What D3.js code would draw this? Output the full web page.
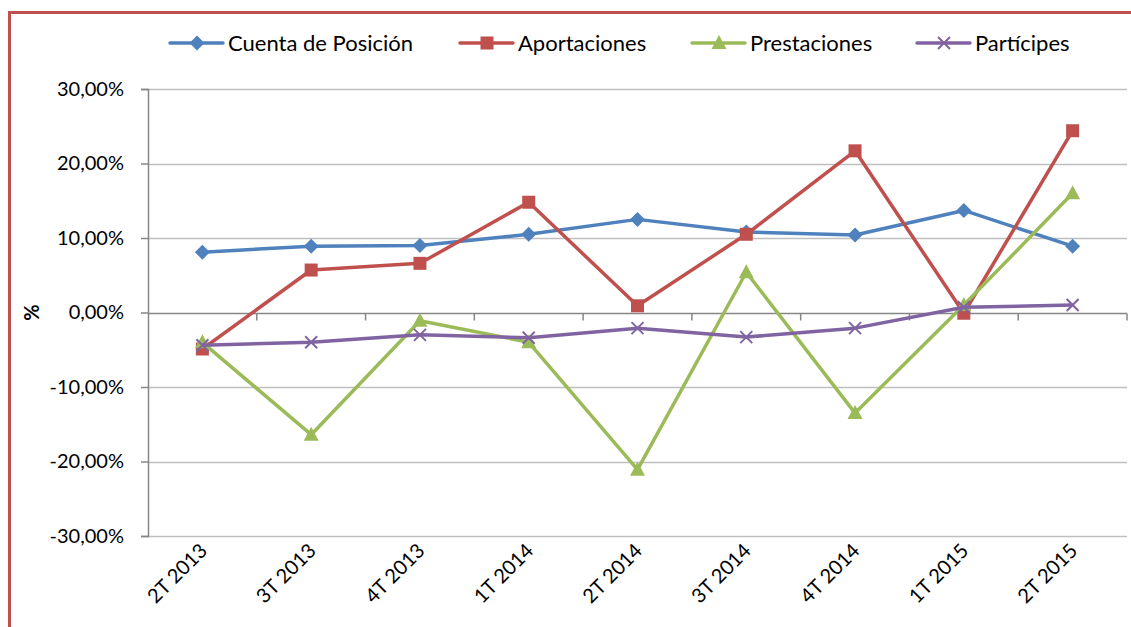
<!DOCTYPE html>
<html>
<head>
<meta charset="utf-8">
<script src="https://cdn.jsdelivr.net/npm/d3@7"></script>
<style>
  body { margin: 0; background: #fff; }
  svg text { font-family: Lato, "Open Sans", sans-serif; fill: #000; }
</style>
</head>
<body>
<div id="chart"></div>
<script>
var categories = ["2T 2013", "3T 2013", "4T 2013", "1T 2014", "2T 2014", "3T 2014", "4T 2014", "1T 2015", "2T 2015"];
var cuenta      = [8.1, 8.9, 9.0, 10.5, 12.5, 10.8, 10.4, 13.7, 8.9];
var aportaciones = [-4.9, 5.7, 6.6, 14.8, 0.9, 10.5, 21.7, -0.1, 24.4];
var prestaciones = [-4.0, -16.4, -1.1, -4.0, -21.1, 5.4, -13.5, 1.0, 16.0];
var participes  = [-4.4, -4.0, -3.0, -3.4, -2.1, -3.3, -2.1, 0.7, 1.0];
var yTicks = [-30, -20, -10, 0, 10, 20, 30];

var series = [
  {name: "Cuenta de Posición", values: cuenta, color: "#4F81BD", marker: "diamond"},
  {name: "Aportaciones", values: aportaciones, color: "#C0504D", marker: "square"},
  {name: "Prestaciones", values: prestaciones, color: "#9BBB59", marker: "triangle"},
  {name: "Partícipes", values: participes, color: "#8064A2", marker: "x"}
];

var W = 1131, H = 627;
var margin = {left: 148, right: 4, top: 89, bottom: 91};

var svg = d3.select("#chart").append("svg")
  .attr("width", W).attr("height", H);

// chart border (only top and left visible in the crop)
svg.append("rect")
  .attr("x", 9.5).attr("y", 12.5)
  .attr("width", W + 20).attr("height", H + 20)
  .attr("fill", "none").attr("stroke", "#C0504D").attr("stroke-width", 3);

var x = d3.scaleBand().domain(categories)
  .range([margin.left, W - margin.right]);
var y = d3.scaleLinear().domain([-30, 30])
  .range([H - margin.bottom, margin.top]);

// excel style: comma decimals, plain hyphen for minus
var fmt = function(v) { return v.toFixed(2).replace(".", ",") + "%"; };

// gridlines
svg.append("g").selectAll("line")
  .data(yTicks.filter(function(d) { return d != 0; }))
  .enter().append("line")
  .attr("x1", margin.left).attr("x2", W - margin.right)
  .attr("y1", function(d) { return Math.round(y(d)) + 0.5; })
  .attr("y2", function(d) { return Math.round(y(d)) + 0.5; })
  .attr("stroke", "#BFBFBF").attr("stroke-width", 1.5);

// y axis
var yAxis = svg.append("g")
  .attr("transform", "translate(" + margin.left + ",0)")
  .call(d3.axisLeft(y).tickValues(yTicks).tickFormat(fmt).tickSize(7).tickPadding(17));
yAxis.select(".domain").attr("stroke", "#868686").attr("stroke-width", 1.5);
yAxis.selectAll(".tick line").attr("stroke", "#868686").attr("stroke-width", 1.5);
yAxis.selectAll("text").style("font-size", "20px").attr("fill", "#000");

// x axis at zero
var xAxis = svg.append("g")
  .attr("transform", "translate(0," + (Math.round(y(0)) + 0.5) + ")");
xAxis.append("line")
  .attr("x1", margin.left).attr("x2", W - margin.right)
  .attr("stroke", "#868686").attr("stroke-width", 1.5);
var bounds = categories.map(function(c) { return x(c); }).concat([x.range()[1]]);
xAxis.selectAll(".tk").data(bounds.slice(1))
  .enter().append("line").attr("class", "tk")
  .attr("x1", function(d) { return d; }).attr("x2", function(d) { return d; })
  .attr("y1", 0).attr("y2", 7)
  .attr("stroke", "#868686").attr("stroke-width", 1.5);

// category labels
svg.append("g").selectAll("text")
  .data(categories).enter().append("text")
  .attr("transform", function(d) {
    return "translate(" + (x(d) + x.bandwidth() / 2 + 6) + "," + (H - margin.bottom + 16) + ") rotate(-45)";
  })
  .attr("text-anchor", "end")
  .style("font-size", "20px")
  .text(function(d) { return d; });

// y title
svg.append("text")
  .attr("transform", "translate(39," + y(0) + ") rotate(-90)")
  .attr("text-anchor", "middle")
  .style("font-size", "20px").style("font-weight", "bold")
  .text("%");

function drawMarker(g, type, color) {
  if (type == "diamond") {
    g.append("path").attr("d", "M0,-7.5L7.5,0L0,7.5L-7.5,0Z").attr("fill", color);
  } else if (type == "square") {
    g.append("rect").attr("x", -6.5).attr("y", -6.5).attr("width", 13).attr("height", 13).attr("fill", color);
  } else if (type == "triangle") {
    g.append("path").attr("d", "M0,-8L7.5,6L-7.5,6Z").attr("fill", color);
  } else {
    g.append("path").attr("d", "M-6,-6L6,6M-6,6L6,-6")
      .attr("stroke", color).attr("stroke-width", 2).attr("fill", "none");
  }
}

var line = d3.line()
  .x(function(d, i) { return x(categories[i]) + x.bandwidth() / 2; })
  .y(function(d) { return y(d); });

series.forEach(function(s) {
  var g = svg.append("g");
  g.append("path").datum(s.values)
    .attr("d", line)
    .attr("fill", "none").attr("stroke", s.color).attr("stroke-width", 3.5)
    .attr("stroke-linejoin", "round");
  g.selectAll(".m").data(s.values).enter().append("g")
    .attr("transform", function(d, i) {
      return "translate(" + (x(categories[i]) + x.bandwidth() / 2) + "," + y(d) + ")";
    })
    .each(function() { drawMarker(d3.select(this), s.marker, s.color); });
});

// legend
var legendX = [170, 460, 692, 917];
series.forEach(function(s, i) {
  var lg = svg.append("g").attr("transform", "translate(" + legendX[i] + ",43)");
  lg.append("line").attr("x1", 0).attr("x2", 53)
    .attr("stroke", s.color).attr("stroke-width", 3.5).attr("stroke-linecap", "round");
  drawMarker(lg.append("g").attr("transform", "translate(27,0)"), s.marker, s.color);
  lg.append("text").attr("x", 58).attr("y", 8)
    .style("font-size", "22px").text(s.name);
});
</script>
</body>
</html>
